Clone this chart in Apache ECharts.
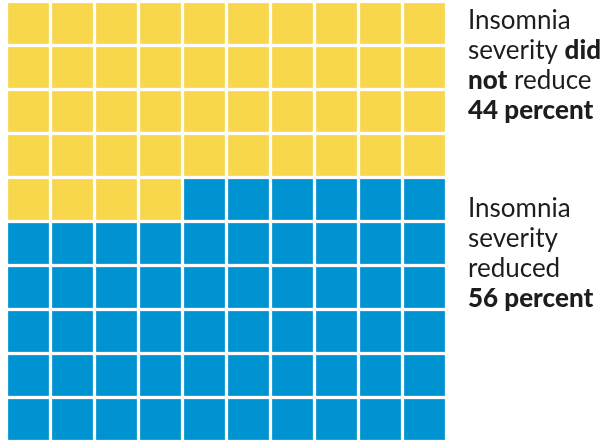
<!DOCTYPE html>
<html>
<head>
<meta charset="utf-8">
<script src="https://cdn.jsdelivr.net/npm/echarts@6/dist/echarts.min.js"></script>
<style>html,body{margin:0;padding:0;background:#fff;}#c{width:610px;height:442px;}</style>
</head>
<body>
<div id="c"></div>
<script>
// Data
const groups = ['Insomnia severity did not reduce', 'Insomnia severity reduced'];
const percents = [44, 56];
const colors = ['#F9D74D', '#0093D1'];
const columns = ['1','2','3','4','5','6','7','8','9','10'];
const rows = ['1','2','3','4','5','6','7','8','9','10'];

// Build waffle cells (row-major, top-left first)
const cells = [];
let idx = 0;
percents.forEach((p, g) => {
  for (let k = 0; k < p; k++) {
    const r = Math.floor(idx / 10), c = idx % 10;
    cells.push([c, r, g]);
    idx++;
  }
});

const chart = echarts.init(document.getElementById('c'), null, {renderer: 'canvas'});
const GAP = 3;
const TXT = '#1E1C1D';
chart.setOption({
  animation: false,
  grid: {left: 6.5, top: 1.5, width: 440, height: 440},
  xAxis: {type: 'category', data: columns, show: false},
  yAxis: {type: 'category', data: rows, inverse: true, show: false},
  series: [{
    type: 'custom',
    data: cells,
    renderItem: function (params, api) {
      const p = api.coord([api.value(0), api.value(1)]);
      const s = api.size([1, 1]);
      return {
        type: 'rect',
        shape: {x: p[0] - s[0] / 2 + GAP / 2, y: p[1] - s[1] / 2 + GAP / 2, width: s[0] - GAP, height: s[1] - GAP},
        style: {fill: colors[api.value(2)], stroke: 'rgba(255,255,255,0.25)', lineWidth: 1}
      };
    }
  }],
  graphic: [
    {
      type: 'text', left: 468, top: 6,
      style: {
        text: 'Insomnia\nseverity {b|did}\n{b|not} reduce\n{b|44 percent}',
        font: '26px Lato', fill: TXT, lineHeight: 30,
        rich: {b: {fontFamily: 'Lato', fontSize: 26, fontWeight: 900, fill: TXT, lineHeight: 30}}
      }
    },
    {
      type: 'text', left: 468, top: 194,
      style: {
        text: 'Insomnia\nseverity\nreduced\n{b|56 percent}',
        font: '26px Lato', fill: TXT, lineHeight: 30,
        rich: {b: {fontFamily: 'Lato', fontSize: 26, fontWeight: 900, fill: TXT, lineHeight: 30}}
      }
    }
  ]
});
</script>
</body>
</html>
